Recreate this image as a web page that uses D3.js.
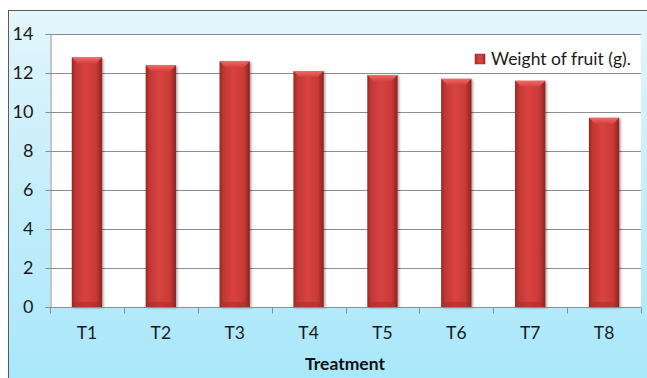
<!DOCTYPE html>
<html>
<head>
<meta charset="utf-8">
<script src="https://cdn.jsdelivr.net/npm/d3@7"></script>
<style>
  html, body { margin: 0; padding: 0; background: #ffffff; }
  svg { display: block; }
  text { font-family: Lato, "Open Sans", "DejaVu Sans", sans-serif; }
</style>
</head>
<body>
<svg id="chart" width="647" height="378"></svg>
<script>
// Fruit weight per treatment
const treatments = ["T1", "T2", "T3", "T4", "T5", "T6", "T7", "T8"];
const fruitWeight = [12.8, 12.4, 12.6, 12.1, 11.9, 11.7, 11.6, 9.7];
const yTicks = [0, 2, 4, 6, 8, 10, 12, 14];
const seriesName = "Weight of fruit (g).";
const xTitle = "Treatment";

const W = 647, H = 378;
const plot = { left: 50, right: 641, top: 34, bottom: 307 };

const svg = d3.select("#chart");
const defs = svg.append("defs");

// Panel background: pale cyan fading to a stronger sky blue toward the bottom
const bg = defs.append("linearGradient").attr("id", "bgGrad")
  .attr("x1", 0).attr("y1", 0).attr("x2", 0).attr("y2", 1);
bg.append("stop").attr("offset", "0%").attr("stop-color", "#e3f6fc");
bg.append("stop").attr("offset", "45%").attr("stop-color", "#c6eefb");
bg.append("stop").attr("offset", "100%").attr("stop-color", "#a7e7fb");

// Bar body shading: darker edges, brighter middle
const barG = defs.append("linearGradient").attr("id", "barGrad")
  .attr("x1", 0).attr("y1", 0).attr("x2", 1).attr("y2", 0);
barG.append("stop").attr("offset", "0%").attr("stop-color", "#962624");
barG.append("stop").attr("offset", "12%").attr("stop-color", "#c03734");
barG.append("stop").attr("offset", "45%").attr("stop-color", "#d8423f");
barG.append("stop").attr("offset", "80%").attr("stop-color", "#c93a37");
barG.append("stop").attr("offset", "100%").attr("stop-color", "#8a2321");

const capG = defs.append("linearGradient").attr("id", "capGrad")
  .attr("x1", 0).attr("y1", 0).attr("x2", 0).attr("y2", 1);
capG.append("stop").attr("offset", "0%").attr("stop-color", "#f06a66");
capG.append("stop").attr("offset", "100%").attr("stop-color", "#d6403d");

const shadow = defs.append("filter").attr("id", "barShadow")
  .attr("x", "-20%").attr("y", "-5%").attr("width", "150%").attr("height", "115%");
shadow.append("feDropShadow").attr("dx", 1.5).attr("dy", 1).attr("stdDeviation", 1.2)
  .attr("flood-color", "#000").attr("flood-opacity", 0.35);

// Chart panel
svg.append("rect").attr("x", 8.5).attr("y", 10.5).attr("width", W).attr("height", H)
  .attr("fill", "url(#bgGrad)").attr("stroke", "#5a5a5a").attr("stroke-width", 1);

// Plot area
svg.append("rect").attr("x", plot.left).attr("y", plot.top)
  .attr("width", plot.right - plot.left).attr("height", plot.bottom - plot.top)
  .attr("fill", "#ffffff");

const x = d3.scaleBand().domain(treatments).range([plot.left, plot.right]).paddingInner(0.59).paddingOuter(0.295);
const xb = d3.scaleBand().domain(treatments).range([plot.left, plot.right]).padding(0);
const y = d3.scaleLinear().domain([0, 14]).range([plot.bottom, plot.top]);

// Horizontal gridlines
svg.append("g").selectAll("line").data(yTicks.filter(d => d > 0)).join("line")
  .attr("x1", plot.left).attr("x2", plot.right)
  .attr("y1", d => Math.round(y(d)) + 0.5).attr("y2", d => Math.round(y(d)) + 0.5)
  .attr("stroke", "#8c8c8c").attr("stroke-width", 1);

// Y axis
const yAxis = svg.append("g").attr("transform", `translate(${plot.left + 0.5},0)`)
  .call(d3.axisLeft(y).tickValues(yTicks).tickSize(5).tickPadding(12).tickFormat(d3.format("d")));
yAxis.select(".domain").attr("stroke", "#8c8c8c");
yAxis.selectAll(".tick line").attr("stroke", "#8c8c8c");
yAxis.selectAll(".tick text").attr("fill", "#1a1a1a").style("font-size", "18px");

// Bars
const bars = svg.append("g").selectAll("g").data(treatments).join("g");
bars.append("rect")
  .attr("x", d => x(d)).attr("width", x.bandwidth())
  .attr("y", (d, i) => y(fruitWeight[i]))
  .attr("height", (d, i) => y(0) - y(fruitWeight[i]))
  .attr("fill", "url(#barGrad)")
  .attr("filter", "url(#barShadow)");
// Bevelled top cap
bars.append("path")
  .attr("d", (d, i) => {
    const x0 = x(d), x1 = x(d) + x.bandwidth(), t = y(fruitWeight[i]), b = 6;
    return `M${x0},${t}L${x1},${t}L${x1 - b},${t + b}L${x0 + b},${t + b}Z`;
  })
  .attr("fill", "url(#capGrad)");
// Slightly darker foot
bars.append("rect")
  .attr("x", d => x(d) + 2).attr("width", x.bandwidth() - 4)
  .attr("y", y(0) - 5).attr("height", 5)
  .attr("fill", "#a12d2b").attr("opacity", 0.5);

// X axis
const xAxis = svg.append("g").attr("transform", `translate(0,${plot.bottom + 0.5})`);
xAxis.append("line").attr("x1", plot.left).attr("x2", plot.right)
  .attr("stroke", "#8c8c8c");
xAxis.selectAll(".tk").data(treatments.concat(["end"])).join("line")
  .attr("x1", (d, i) => Math.round(plot.left + i * xb.step()) + 0.5)
  .attr("x2", (d, i) => Math.round(plot.left + i * xb.step()) + 0.5)
  .attr("y1", 0).attr("y2", 6).attr("stroke", "#8c8c8c");
xAxis.selectAll("text").data(treatments).join("text")
  .attr("x", d => xb(d) + xb.bandwidth() / 2).attr("y", 31)
  .attr("text-anchor", "middle").attr("fill", "#1a1a1a")
  .style("font-size", "17.5px").text(d => d);

// Axis title
svg.append("text").attr("x", 345).attr("y", 370)
  .attr("text-anchor", "middle").attr("fill", "#111")
  .style("font-size", "17.5px").style("font-weight", "bold").text(xTitle);

// Legend
const lg = svg.append("g").attr("transform", "translate(475,55)");
lg.append("rect").attr("x", 0).attr("y", -1).attr("width", 10).attr("height", 10)
  .attr("fill", "url(#barGrad)").attr("stroke", "#8e2422").attr("stroke-width", 0.5);
lg.append("text").attr("x", 16).attr("y", 10).attr("fill", "#1a1a1a")
  .style("font-size", "17.5px").text(seriesName);
</script>
</body>
</html>
